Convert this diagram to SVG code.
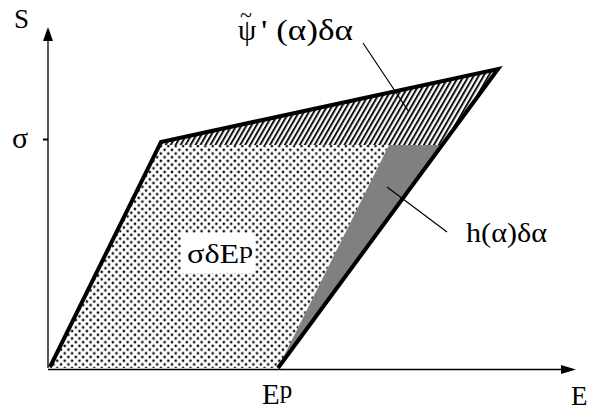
<svg xmlns="http://www.w3.org/2000/svg" width="590" height="416" viewBox="0 0 590 416">
<style>
.lbl{font-family:"Liberation Serif","Times New Roman",Times,serif;fill:#000}
.thick{fill:none;stroke:#000;stroke-width:4;stroke-linejoin:miter}
.leader{stroke:#000;stroke-width:1.2;fill:none}
</style>
<defs>
<pattern id="dots" width="7.4" height="7.4" patternUnits="userSpaceOnUse">
<rect width="7.4" height="7.4" fill="#fff"/>
<circle cx="1.8" cy="1.8" r="1.35" fill="#111"/>
<circle cx="5.5" cy="5.5" r="1.35" fill="#111"/>
</pattern>
<pattern id="hatch" width="4.3" height="10" patternUnits="userSpaceOnUse" patternTransform="rotate(30)">
<rect width="4.3" height="10" fill="#fff"/>
<rect x="0" y="0" width="2" height="10" fill="#111"/>
</pattern>
</defs>
<g id="axes">
<line x1="48" y1="368" x2="48" y2="40" stroke="#444" stroke-width="1.8"/>
<polygon points="48,27 43,41 53,41" fill="#000"/>
<line x1="48" y1="369.5" x2="562" y2="369.5" stroke="#000" stroke-width="1.6"/>
<polygon points="576,369.5 561,365 561,374" fill="#000"/>
<line x1="43" y1="139.5" x2="48" y2="139.5" stroke="#000" stroke-width="2"/>
</g>
<g id="regions">
<polygon id="plastic-work" points="50,368 161,143 389,145 278,368" fill="url(#dots)"/>
<polygon id="hardening" points="389,145 441,145 278,368" fill="#808080"/>
<polygon id="stored" points="161,143 498,69 441,145 161,145" fill="url(#hatch)"/>
<rect x="181" y="233" width="74" height="40" fill="#fff"/>
</g>
<g id="connectors">
<polyline class="thick" points="50,367 161,142 498,69 278,368"/>
<line class="leader" x1="363" y1="43" x2="409" y2="112"/>
<line class="leader" x1="447" y1="232" x2="387" y2="187"/>
</g>
<g id="labels">
<text class="lbl" x="14" y="28" font-size="27">S</text>
<text class="lbl" x="12" y="148" font-size="30">σ</text>
<text class="lbl" font-size="29"><tspan x="238" y="40">ψ</tspan><tspan x="240" y="22" font-size="22">~</tspan><tspan x="261" y="40" textLength="92" lengthAdjust="spacingAndGlyphs">' (α)δα</tspan></text>
<text class="lbl" x="187" y="263" font-size="27" textLength="66" lengthAdjust="spacingAndGlyphs">σδE<tspan font-size="23" dy="-5">p</tspan></text>
<text class="lbl" x="262" y="404" font-size="29">E<tspan font-size="25" dy="-6">p</tspan></text>
<text class="lbl" x="571" y="405" font-size="27">E</text>
<text class="lbl" x="466" y="242" font-size="28" textLength="81" lengthAdjust="spacingAndGlyphs">h(α)δα</text>
</g>
</svg>
